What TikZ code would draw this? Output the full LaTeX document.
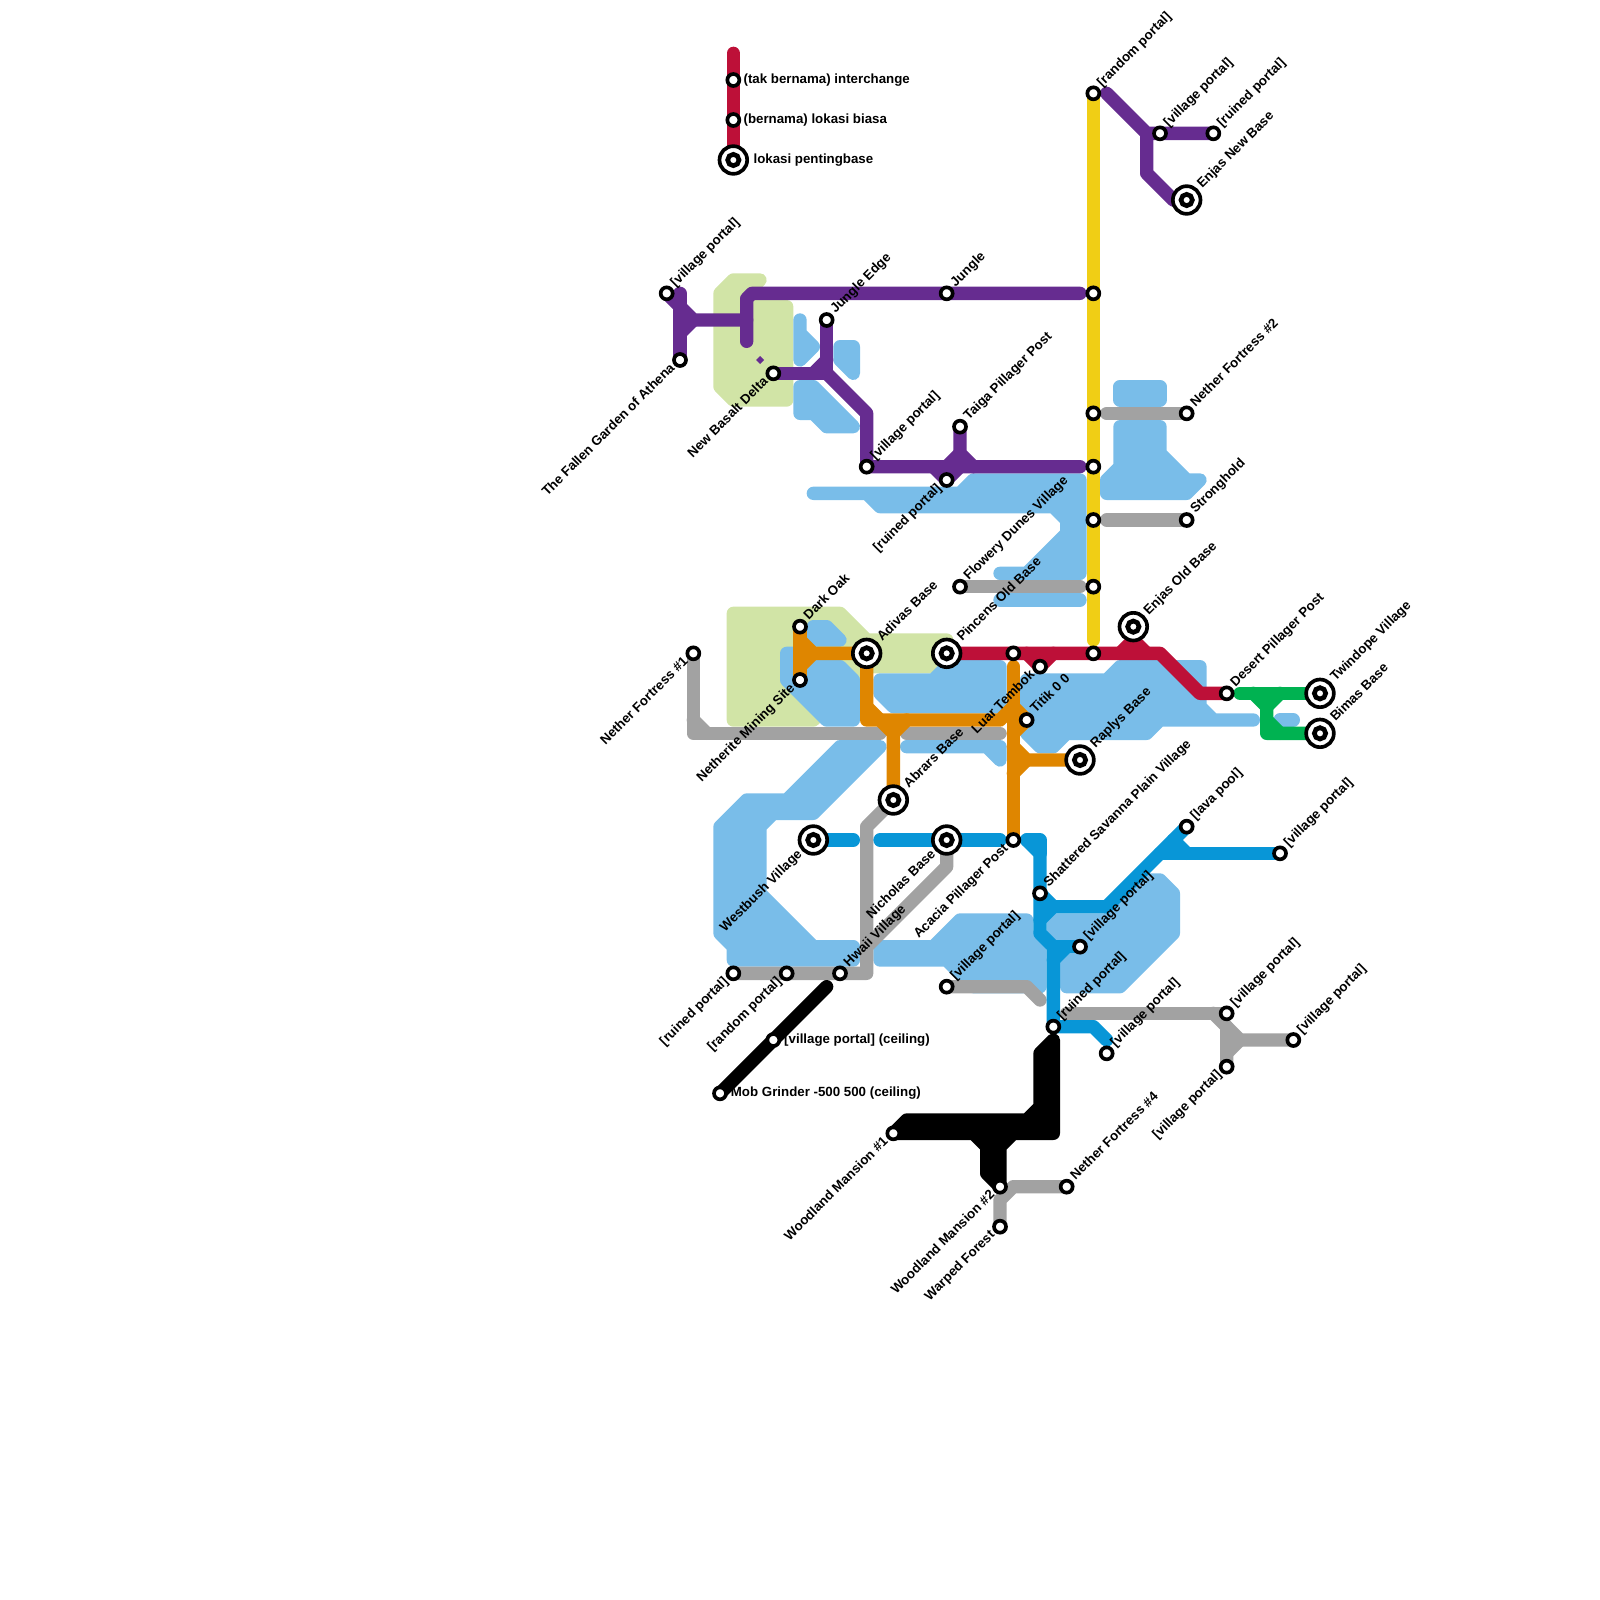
\documentclass[tikz,border=0pt]{standalone}
\usepackage{fontspec}
\setmainfont{Liberation Sans}
\usetikzlibrary{calc}
\pgfdeclarelayer{bg}
\pgfsetlayers{bg,main}
\definecolor{cred}{HTML}{BD1038}
\definecolor{cpurple}{HTML}{662C90}
\definecolor{cyellow}{HTML}{F0CE15}
\definecolor{cgray}{HTML}{A2A2A2}
\definecolor{corange}{HTML}{DF8600}
\definecolor{cblue}{HTML}{0896D7}
\definecolor{cgreen}{HTML}{00B251}
\definecolor{cwater}{HTML}{79BDE9}
\definecolor{cland}{HTML}{D1E4A6}
\tikzset{
  st/.style={circle,draw=black,fill=white,line width=1.1mm,minimum size=3.6mm,inner sep=0pt,outer sep=0pt},
  stbo/.style={circle,draw=black,fill=white,line width=1.1mm,minimum size=8.3mm,inner sep=0pt,outer sep=0pt},
  stbi/.style={circle,draw=black,fill=white,line width=1.4mm,minimum size=3.4mm,inner sep=0pt,outer sep=0pt},
  lbl/.style={font=\fontsize{11.35pt}{13pt}\selectfont\bfseries,inner sep=0pt,text height=.72em,text depth=.2em,text=black},
  lur/.style={lbl,rotate=45,anchor=west},
  lul/.style={lbl,rotate=45,anchor=east},
  lh/.style={lbl,anchor=west},
  metro/.style={line width=4mm,line cap=round,line join=round},
  water/.style={draw=cwater,fill=cwater,line width=4mm,line cap=round,line join=round},
  land/.style={draw=cland,fill=cland,line width=4mm,line cap=round,line join=round},
}
\newcommand{\sst}[3]{\node[st] (#1) at (#2,#3) {};}
\newcommand{\bst}[3]{\node[stbo] (#1) at (#2,#3) {};\node[stbi] (#1-i) at (#2,#3) {};}
\newcommand{\lbR}[2]{\node[lur] (#1-l) at ($(#1.center)+(0.5,-0.6)$) {#2};}
\newcommand{\lbRb}[2]{\node[lur] (#1-l) at ($(#1.center)+(1.0,-1.0)$) {#2};}
\newcommand{\lbL}[2]{\node[lul] (#1-l) at ($(#1.center)+(-0.5,0.5)$) {#2};}
\newcommand{\lbLb}[2]{\node[lul] (#1-l) at ($(#1.center)+(-0.95,0.95)$) {#2};}
\begin{document}
\begin{tikzpicture}[x=4mm,y=-4mm]
\useasboundingbox (0,0) rectangle (120,120);
% stations
\sst{lega}{55}{6}\sst{legb}{55}{9}\bst{legc}{55}{12}
\sst{y1}{82}{7}\sst{y2}{82}{22}\sst{y3}{82}{31}\sst{y4}{82}{35}\sst{y5}{82}{39}\sst{y6}{82}{44}\sst{y7}{82}{49}
\sst{pa}{87}{10}\sst{pb}{91}{10}\bst{pc}{89}{15}
\sst{pd}{50}{22}\sst{pe}{51}{27}\sst{pf}{58}{28}\sst{pg}{62}{24}\sst{ph}{71}{22}
\sst{pi}{65}{35}\sst{pj}{72}{32}\sst{pk}{71}{36}
\sst{ga}{89}{31}\sst{gb}{89}{39}\sst{gc}{72}{44}
\bst{ra}{71}{49}\sst{rb}{76}{49}\sst{rc}{78}{50}\bst{rd}{85}{47}\sst{re}{92}{52}
\bst{gra}{99}{52}\bst{grb}{99}{55}
\bst{oa}{65}{49}\sst{ob}{60}{47}\sst{oc}{60}{51}\sst{od}{77}{54}\bst{oe}{81}{57}\bst{of}{67}{60}\sst{og}{76}{63}
\sst{gd}{52}{49}
\bst{ba}{61}{63}\bst{bb}{71}{63}\sst{bc}{78}{67}\sst{bd}{89}{62}\sst{be}{96}{64}\sst{bf}{81}{71}\sst{bg}{79}{77}\sst{bh}{83}{79}
\sst{ge}{55}{73}\sst{gf}{59}{73}\sst{gg}{63}{73}\sst{gh}{71}{74}
\sst{gi}{92}{76}\sst{gj}{92}{80}\sst{gk}{97}{78}
\sst{ka}{58}{78}\sst{kb}{54}{82}\sst{kc}{67}{85}\sst{kd}{75}{89}
\sst{gl}{80}{89}\sst{gm}{75}{92}
% labels
\node[lh] (lega-l) at (55.75,6) {(tak bernama) interchange};
\node[lh] (legb-l) at (55.75,9) {(bernama) lokasi biasa};
\node[lh] (legc-l) at (56.5,12) {lokasi pentingbase};
\node[lh] (ka-l) at (58.8,78) {[village portal] (ceiling)};
\node[lh] (kb-l) at (54.8,82) {Mob Grinder -500 500 (ceiling)};
\lbR{y1}{[random portal]}\lbR{pa}{[village portal]}\lbR{pb}{[ruined portal]}\lbRb{pc}{Enjas New Base}
\lbR{pd}{[village portal]}\lbL{pe}{The Fallen Garden of Athena}\lbL{pf}{New Basalt Delta}\lbR{pg}{Jungle Edge}\lbR{ph}{Jungle}
\lbR{pi}{[village portal]}\lbR{pj}{Taiga Pillager Post}\lbL{pk}{[ruined portal]}
\lbR{ga}{Nether Fortress \#2}\lbR{gb}{Stronghold}\lbR{gc}{Flowery Dunes Village}
\lbRb{ra}{Pincens Old Base}\lbL{rc}{Luar Tembok}\lbRb{rd}{Enjas Old Base}\lbR{re}{Desert Pillager Post}
\lbRb{gra}{Twindope Village}\lbRb{grb}{Bimas Base}
\lbRb{oa}{Adivas Base}\lbR{ob}{Dark Oak}\lbL{oc}{Netherite Mining Site}\lbR{od}{Titik 0 0}\lbRb{oe}{Raplys Base}\lbRb{of}{Abrars Base}\lbL{og}{Acacia Pillager Post}
\lbL{gd}{Nether Fortress \#1}
\lbLb{ba}{Westbush Village}\lbLb{bb}{Nicholas Base}\lbR{bc}{Shattered Savanna Plain Village}\lbR{bd}{[lava pool]}\lbR{be}{[village portal]}\lbR{bf}{[village portal]}\lbR{bg}{[ruined portal]}\lbR{bh}{[village portal]}
\lbL{ge}{[ruined portal]}\lbL{gf}{[random portal]}\lbR{gg}{Hwaii Village}\lbR{gh}{[village portal]}
\lbR{gi}{[village portal]}\lbL{gj}{[village portal]}\lbR{gk}{[village portal]}
\lbL{kc}{Woodland Mansion \#1}\lbL{kd}{Woodland Mansion \#2}\lbR{gl}{Nether Fortress \#4}\lbL{gm}{Warped Forest}
\begin{pgfonlayer}{bg}
% land
\path[land] (55,21)--(57,21)--(56,22)--(56,23)--(59,23)--(59,30)--(55,30)--(54,29)--(54,22)--cycle;
\path[land] (55,46)--(63,46)--(65,48)--(71,48)--(71,49)--(70,50)--(65,50)--(61,54)--(55,54)--cycle;
% water
\path[water] (60,24)--(60,27)--(61,26)--(60,25)--cycle;
\path[water] (63,26)--(64,26)--(64,28)--(63,27)--cycle;
\path[water] (60,29)--(61,29)--(64,32)--(62,32)--(61,31)--(60,31)--cycle;
\path[water] (61,37)--(72,37)--(73,36)--(81,36)--(81,43)--(75,43)--(77,43)--(80,40)--(80,39)--(79,38)--(66,38)--(65,37)--cycle;
\draw[water] (75,45)--(81,45);
\path[water] (84,29)--(87,29)--(87,30)--(84,30)--cycle;
\path[water] (84,32)--(87,32)--(87,34)--(89,36)--(90,36)--(89,37)--(83,37)--(83,36)--(84,35)--cycle;
\path[water] (77,51)--(83,51)--(84,50)--(90,50)--(90,53)--(91,54)--(94,54)--(87,54)--(86,55)--(80,55)--(79,56)--(78,56)--(77,55)--cycle;
\draw[water] (96,54)--(97,54);
\path[water] (66,51)--(70,51)--(71,50)--(75,50)--(75,53)--(67,53)--(66,52)--cycle;
\path[water] (68,56)--(75,56)--(75,57)--(74,56)--cycle;
\path[water] (61,47)--(62,47)--(63,48)--(61,48)--cycle;
\path[water] (59,49)--(60,49)--(60,50)--(63,50)--(64,51)--(64,54)--(62,54)--(59,51)--cycle;
\path[water] (66,56)--(63,56)--(59,60)--(56,60)--(54,62)--(54,70)--(55,71)--(55,72)--(64,72)--(64,71)--(61,71)--(57,67)--(57,62)--(58,61)--(61,61)--cycle;
\path[water] (66,71)--(70,71)--(72,69)--(77,69)--(77,70)--(78,71)--(78,74)--(73,74)--(71,72)--(66,72)--cycle;
\path[water] (79,69)--(83,69)--(86,66)--(87,66)--(88,67)--(88,70)--(84,74)--(80,74)--(80,71)--(79,70)--cycle;
% gray
\draw[metro,cgray] (83,31)--(ga.center);
\draw[metro,cgray] (83,39)--(gb.center);
\draw[metro,cgray] (gc.center)--(81,44);
\draw[metro,cgray] (gd.center)--(52,55)--(66,55);
\draw[metro,cgray] (52,54)--(53,55);
\draw[metro,cgray] (68,55)--(75,55);
\draw[metro,cgray] (of.center)--(65,62)--(65,73)--(ge.center);
\draw[metro,cgray] (bb.center)--(71,65)--(65,71);
\draw[metro,cgray] (gh.center)--(77,74)--(78,75);
\draw[metro,cgray] (80,76)--(91,76)--(gi.center);
\draw[metro,cgray] (91,76)--(92,77)--(gj.center);
\draw[metro,cgray] (92,77)--(93,78)--(gk.center);
\draw[metro,cgray] (92,79)--(93,78);
\draw[metro,cgray] (gm.center)--(75,90)--(76,89)--(gl.center);
% yellow
\draw[metro,cyellow] (y1.center)--(82,48);
% purple
\draw[metro,cpurple] (83,7)--(86,10)--(pb.center);
\draw[metro,cpurple] (86,10)--(86,13)--(88,15);
\draw[metro,cpurple] (pd.center)--(51,23)--(52,24)--(56,24);
\draw[metro,cpurple] (51,22)--(pe.center);
\draw[metro,cpurple] (51,25)--(52,24);
\draw[metro,cpurple] (56,25.6)--(56,22.4)--(56.4,22)--(ph.center)--(81,22);
\draw[metro,cpurple] (pf.center)--(62,28)--(pg.center);
\draw[metro,cpurple] (61,28)--(62,27);
\draw[metro,cpurple] (62,28)--(65,31)--(pi.center)--(81,35);
\draw[metro,cpurple] (pj.center)--(72,34)--(73,35);
\draw[metro,cpurple] (72,34)--(71,35);
\draw[metro,cpurple] (70,35)--(pk.center)--(72,35);
\fill[cpurple] (57,26.7)--(57.3,27)--(57,27.3)--(56.7,27)--cycle;
% red
\draw[metro,cred] (lega.center)--(55,4);
\draw[metro,cred] (lega.center)--(legc.center);
\draw[metro,cred] (ra.center)--(87,49)--(90,52)--(re.center);
\draw[metro,cred] (77,49)--(rc.center)--(79,49);
\draw[metro,cred] (84,49)--(85,48)--(86,49);
% green
\draw[metro,cgreen] (93,52)--(gra.center);
\draw[metro,cgreen] (94,52)--(95,53)--(95,55)--(grb.center);
\draw[metro,cgreen] (95,53)--(96,52);
\draw[metro,cgreen] (95,54)--(96,55);
% orange
\draw[metro,corange] (ob.center)--(oc.center);
\draw[metro,corange] (60,48)--(61,49)--(oa.center);
\draw[metro,corange] (60,50)--(61,49);
\draw[metro,corange] (oa.center)--(65,54)--(75,54)--(76,53);
\draw[metro,corange] (65,53)--(66,54);
\draw[metro,corange] (66,54)--(67,55)--(of.center);
\draw[metro,corange] (67,55)--(68,54);
\draw[metro,corange] (76,50)--(og.center);
\draw[metro,corange] (76,53)--(od.center)--(76,55);
\draw[metro,corange] (76,56)--(77,57)--(oe.center);
\draw[metro,corange] (76,58)--(77,57);
% blue
\draw[metro,cblue] (ba.center)--(64,63);
\draw[metro,cblue] (66,63)--(75,63);
\draw[metro,cblue] (77,63)--(78,64)--(78,70)--(79,71)--(bg.center)--(82,77)--(83,78);
\draw[metro,cblue] (77,63)--(78,63)--(78,64);
\draw[metro,cblue] (bc.center)--(79,68)--(83,68)--(bd.center);
\draw[metro,cblue] (78,69)--(79,68);
\draw[metro,cblue] (87,64)--(be.center);
\draw[metro,cblue] (88,63)--(89,64);
\draw[metro,cblue] (79,71)--(bf.center);
\draw[metro,cblue] (79,72)--(80,71);
% black
\draw[metro,black] (kb.center)--(62,74);
\path[draw=black,fill=black,line width=4mm,line join=round] (kc.center)--(68,84)--(77,84)--(78,83)--(78,79)--(79,78)--(79,85)--(76,85)--(75,86)--(kd.center)--(74,88)--(74,86)--(73,85)--cycle;
\end{pgfonlayer}
\end{tikzpicture}
\end{document}
